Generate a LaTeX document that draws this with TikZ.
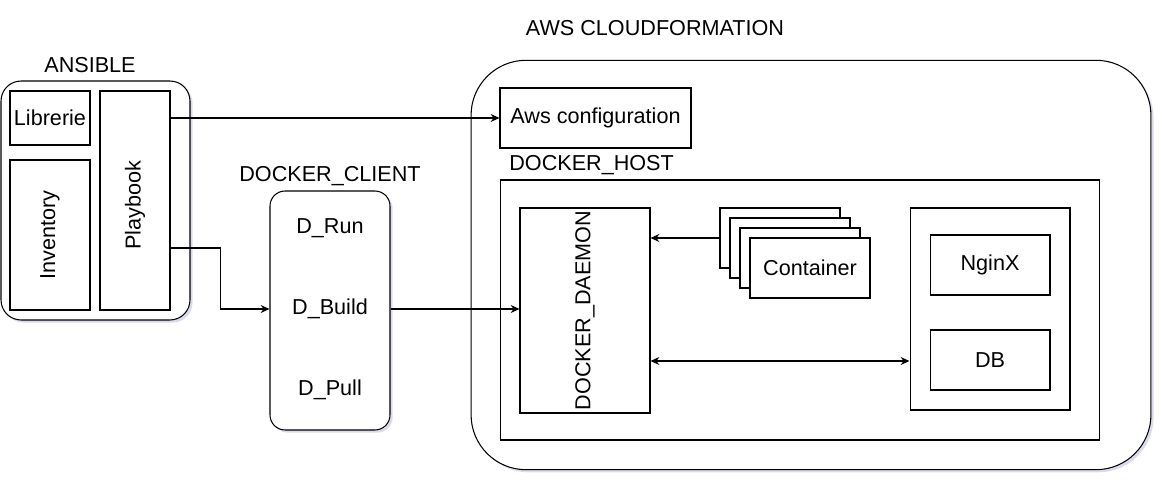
\documentclass[tikz,border=0pt]{standalone}
\usepackage{fontspec}
\setmainfont{Liberation Sans}
\usetikzlibrary{arrows.meta,shadows}

\begin{document}
\begin{tikzpicture}[x=0.02cm,y=-0.02cm,>={Stealth[length=5pt,width=4.5pt]},
    every node/.style={font=\fontsize{12.3}{14}\selectfont},
    box/.style={draw,semithick,fill=white,inner sep=0pt},
    rbox/.style={box,drop shadow={shadow xshift=1.5pt,shadow yshift=-1.5pt,opacity=0.2,fill=blue!40!gray}},
    conn/.style={semithick,->}]
  \useasboundingbox (0,0) rectangle (1162,482);

  % ansible
  \node (ansibletitle) at (90,65) {ANSIBLE};
  \node[rbox,rounded corners=0.4cm,minimum width=3.78cm,minimum height=4.78cm] (ansible) at (95.5,200.5) {};
  \node[box,minimum width=1.6cm,minimum height=1.08cm] (librerie) at (50,118) {Librerie};
  \node[box,minimum width=1.6cm,minimum height=3cm] (inventory) at (50,235) {};
  \node[rotate=90] (inventorytxt) at (inventory) {Inventory};
  \node[box,minimum width=1.4cm,minimum height=4.38cm] (playbook) at (135,200.5) {};
  \node[rotate=90] (playbooktxt) at (135,205) {Playbook};

  % docker client
  \node (clienttitle) at (330,176) {DOCKER\_CLIENT};
  \node[rbox,rounded corners=0.3cm,minimum width=2.4cm,minimum height=4.78cm] (client) at (330,310.5) {};
  \node (run) at (330,228) {D\_Run};
  \node (build) at (330,309) {D\_Build};
  \node (pull) at (330,390) {D\_Pull};

  % aws cloudformation
  \node (awstitle) at (655,28) {AWS CLOUDFORMATION};
  \node[rbox,rounded corners=1.1cm,minimum width=13.6cm,minimum height=8.19cm] (aws) at (811,265) {};
  \node[box,minimum width=3.82cm,minimum height=1.2cm] (awsconf) at (595.5,118) {Aws configuration};
  \node[anchor=west,inner xsep=0pt] (hosttitle) at (509,165) {DOCKER\_HOST};
  \node[box,minimum width=12cm,minimum height=5.2cm] (host) at (800,310) {};
  \node[box,minimum width=2.6cm,minimum height=4.1cm] (daemon) at (585,310.5) {};
  \node[rotate=90] (daemontxt) at (daemon) {DOCKER\_DAEMON};
  \foreach \i in {1,...,3}
    \node[box,minimum width=2.4cm,minimum height=1.2cm] (cont\i) at (770+10*\i,228+10*\i) {};
  \node[box,minimum width=2.4cm,minimum height=1.2cm] (cont4) at (810,268) {Container};
  \node[box,minimum width=3.2cm,minimum height=4.04cm] (apps) at (990,309) {};
  \node[box,minimum width=2.4cm,minimum height=1.2cm] (nginx) at (990,265) {NginX};
  \node[box,minimum width=2.4cm,minimum height=1.2cm] (db) at (990,360) {DB};

  % connectors
  \coordinate (pbout) at (playbook.east |- 0,248);
  \coordinate (link) at (0,361);
  \draw[conn] (playbook.east |- awsconf) -- (awsconf.west);
  \draw[conn] (pbout) -- ++(50,0) |- (client.west |- build);
  \draw[conn] (build -| client.east) -- (build -| daemon.west);
  \draw[conn] (cont1.west) -- (cont1.west -| daemon.east);
  \draw[conn,<->] (link -| daemon.east) -- (link -| apps.west);
\end{tikzpicture}
\end{document}
